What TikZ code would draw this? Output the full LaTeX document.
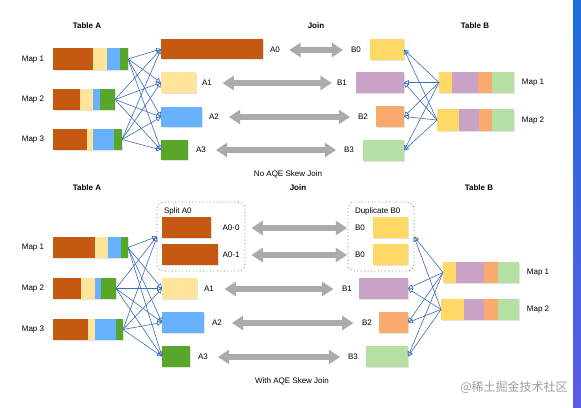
\documentclass[tikz,border=0pt]{standalone}
\usepackage{fontspec}
\setmainfont{Liberation Sans}
\newfontfamily\cjk{Noto Sans CJK SC}
\usetikzlibrary{arrows.meta,fit,shadows}
\definecolor{cBrown}{HTML}{C65911}
\definecolor{cCream}{HTML}{FFE599}
\definecolor{cBlue}{HTML}{66B2FF}
\definecolor{cGreen}{HTML}{58A62A}
\definecolor{cYel}{HTML}{FFD966}
\definecolor{cPur}{HTML}{C9A3C6}
\definecolor{cOra}{HTML}{F9AA6C}
\definecolor{cLgr}{HTML}{B5DFA3}
\definecolor{cFan}{HTML}{3A6DBA}
\definecolor{cJoin}{HTML}{ABABAB}
\definecolor{cStripTop}{HTML}{1C6ED8}
\definecolor{cStripBot}{HTML}{5B5CE4}
\begin{document}
\begin{tikzpicture}[x=0.75pt,y=-0.75pt,
  font=\fontsize{6}{7}\selectfont,
  box/.style={inner sep=0pt, outer sep=0pt, draw=none,
    drop shadow={shadow xshift=0.6pt, shadow yshift=-0.6pt, opacity=0.22}},
  lbl/.style={inner sep=0pt, outer sep=0pt},
  ttl/.style={font=\fontsize{6}{7}\selectfont\bfseries},
  fan/.style={draw=cFan, line width=0.45pt, -{Triangle[open, length=3.6pt, width=3.6pt]}},
  gjoin/.style={draw=cJoin, line width=4.5pt, {Triangle[length=8.5pt, width=10.5pt]}-{Triangle[length=8.5pt, width=10.5pt]}},
  dotbox/.style={draw=black!60, dotted, line width=0.6pt, rounded corners=5pt, inner sep=0pt, outer sep=0pt}]
\useasboundingbox (0,0) rectangle (581,407);
\shade[top color=cStripTop, bottom color=cStripBot] (573,0) rectangle (581,407);

% ================= TOP =================
\node[ttl] (tA1) at (87,26) {Table A};
\node[ttl] (tJ1) at (316,26) {Join};
\node[ttl] (tB1) at (475,26) {Table B};

\node[lbl] (lm1) at (33,60) {Map 1};
\node[lbl] (lm2) at (33,100) {Map 2};
\node[lbl] (lm3) at (33,140) {Map 3};

\node[box, fill=white, fit={(53,48)(128,70)}] (ta1) {};
\foreach \a/\b/\c in {53/93/cBrown,93/107/cCream,107/120/cBlue,120/128/cGreen} \fill[\c] (\a,48) rectangle (\b,70);
\node[box, fill=white, fit={(53,89)(115,110)}] (ta2) {};
\foreach \a/\b/\c in {53/80/cBrown,80/93/cCream,93/100/cBlue,100/115/cGreen} \fill[\c] (\a,89) rectangle (\b,110);
\node[box, fill=white, fit={(53,129)(122,150)}] (ta3) {};
\foreach \a/\b/\c in {53/87/cBrown,87/93/cCream,93/114/cBlue,114/122/cGreen} \fill[\c] (\a,129) rectangle (\b,150);

\node[box, fill=cBrown, fit={(161,39)(263,59)}] (a0) {};
\node[box, fill=cCream, fit={(161,72)(196,93)}] (a1) {};
\node[box, fill=cBlue, fit={(161,107)(202,127)}] (a2) {};
\node[box, fill=cGreen, fit={(161,140)(188,160)}] (a3) {};

\node[lbl] (la0) at (275,50) {A0};
\node[lbl] (la1) at (207,83) {A1};
\node[lbl] (la2) at (214,117) {A2};
\node[lbl] (la3) at (201,150) {A3};

\node[lbl] (lb0) at (356,50) {B0};
\node[lbl] (lb1) at (342,83) {B1};
\node[lbl] (lb2) at (363,117) {B2};
\node[lbl] (lb3) at (349,150) {B3};

\node[box, fill=cYel, fit={(370,39)(404,60)}] (b0) {};
\node[box, fill=cPur, fit={(356,72)(404,93)}] (b1) {};
\node[box, fill=cOra, fit={(376,106)(404,127)}] (b2) {};
\node[box, fill=cLgr, fit={(363,140)(404,161)}] (b3) {};

\node[box, fill=white, fit={(439,72)(514,93)}] (tb1) {};
\foreach \a/\b/\c in {439/452/cYel,452/478/cPur,478/492/cOra,492/514/cLgr} \fill[\c] (\a,72) rectangle (\b,93);
\node[box, fill=white, fit={(437,109)(514,131)}] (tb2) {};
\foreach \a/\b/\c in {437/459/cYel,459/479/cPur,479/492/cOra,492/514/cLgr} \fill[\c] (\a,109) rectangle (\b,131);

\node[lbl] (lmb1) at (533,83) {Map 1};
\node[lbl] (lmb2) at (533,121) {Map 2};

\draw[gjoin, shorten <=7pt, shorten >=6pt] (la0) -- (lb0);
\draw[gjoin, shorten <=8pt, shorten >=4pt] (la1) -- (lb1);
\draw[gjoin, shorten <=7.5pt, shorten >=6pt] (la2) -- (lb2);
\draw[gjoin, shorten <=7.5pt, shorten >=6pt] (la3) -- (lb3);

\foreach \s in {ta1,ta2,ta3} \foreach \t in {a0,a1,a2,a3} \draw[fan] (\s.east) -- (\t.west);
\foreach \s in {tb1,tb2} \foreach \t in {b0,b1,b2,b3} \draw[fan] (\s.west) -- (\t.east);

\node[lbl] (cap1) at (288,174) {No AQE Skew Join};

% ================= BOTTOM =================
\node[ttl] (tA2) at (87,188) {Table A};
\node[ttl] (tJ2) at (298,188) {Join};
\node[ttl] (tB2) at (479,188) {Table B};

\node[lbl] (ln1) at (33,248) {Map 1};
\node[lbl] (ln2) at (33,289) {Map 2};
\node[lbl] (ln3) at (33,330) {Map 3};

\node[box, fill=white, fit={(53,237)(128,258)}] (sa1) {};
\foreach \a/\b/\c in {53/95/cBrown,95/108/cCream,108/121/cBlue,121/128/cGreen} \fill[\c] (\a,237) rectangle (\b,258);
\node[box, fill=white, fit={(53,278)(116,299)}] (sa2) {};
\foreach \a/\b/\c in {53/81/cBrown,81/95/cCream,95/101/cBlue,101/116/cGreen} \fill[\c] (\a,278) rectangle (\b,299);
\node[box, fill=white, fit={(53,319)(123,340)}] (sa3) {};
\foreach \a/\b/\c in {53/88/cBrown,88/95/cCream,95/116/cBlue,116/123/cGreen} \fill[\c] (\a,319) rectangle (\b,340);

\node[dotbox, fit={(157,202)(245,271)}] (split) {};
\node[lbl, anchor=west] (lsplit) at (164,211) {Split A0};
\node[box, fill=cBrown, fit={(162,217)(211,238)}] (a00) {};
\node[box, fill=cBrown, fit={(162,244)(218,265)}] (a01) {};
\node[box, fill=cCream, fit={(162,278)(197,299)}] (c1) {};
\node[box, fill=cBlue, fit={(162,312)(204,333)}] (c2) {};
\node[box, fill=cGreen, fit={(162,346)(190,367)}] (c3) {};

\node[lbl] (la00) at (231,228) {A0-0};
\node[lbl] (la01) at (231,255) {A0-1};
\node[lbl] (lc1) at (209,289) {A1};
\node[lbl] (lc2) at (217,323) {A2};
\node[lbl] (lc3) at (203,357) {A3};

\node[dotbox, fit={(348,202)(414,271)}] (dup) {};
\node[lbl, anchor=west] (ldup) at (355,211) {Duplicate B0};
\node[box, fill=cYel, fit={(373,217)(408,238)}] (d00) {};
\node[box, fill=cYel, fit={(373,244)(408,265)}] (d01) {};
\node[box, fill=cPur, fit={(359,278)(408,299)}] (d1) {};
\node[box, fill=cOra, fit={(379,312)(408,333)}] (d2) {};
\node[box, fill=cLgr, fit={(366,346)(408,367)}] (d3) {};

\node[lbl] (ld00) at (360,228) {B0};
\node[lbl] (ld01) at (360,255) {B0};
\node[lbl] (ld1) at (347,289) {B1};
\node[lbl] (ld2) at (367,323) {B2};
\node[lbl] (ld3) at (353,357) {B3};

\node[box, fill=white, fit={(443,262)(519,283)}] (sb1) {};
\foreach \a/\b/\c in {443/456/cYel,456/484/cPur,484/498/cOra,498/519/cLgr} \fill[\c] (\a,262) rectangle (\b,283);
\node[box, fill=white, fit={(441,299)(519,320)}] (sb2) {};
\foreach \a/\b/\c in {441/464/cYel,464/484/cPur,484/498/cOra,498/519/cLgr} \fill[\c] (\a,299) rectangle (\b,320);

\node[lbl] (lnb1) at (538,273) {Map 1};
\node[lbl] (lnb2) at (538,310) {Map 2};

\draw[gjoin, shorten <=9pt, shorten >=6pt] (la00) -- (ld00);
\draw[gjoin, shorten <=9pt, shorten >=6pt] (la01) -- (ld01);
\draw[gjoin, shorten <=8pt, shorten >=6.5pt] (lc1) -- (ld1);
\draw[gjoin, shorten <=7.5pt, shorten >=6.5pt] (lc2) -- (ld2);
\draw[gjoin, shorten <=7.5pt, shorten >=6pt] (lc3) -- (ld3);

\foreach \s in {sa1,sa2,sa3} \foreach \t in {split,c1,c2,c3} \draw[fan] (\s.east) -- (\t.west);
\foreach \s in {sb1,sb2} \foreach \t in {dup,d1,d2,d3} \draw[fan] (\s.west) -- (\t.east);

\node[lbl] (cap2) at (292,381) {With AQE Skew Join};

\node[lbl, text=black!38, font=\cjk\fontsize{9}{10}\selectfont] (wm) at (514,387) {@稀土掘金技术社区};
\end{tikzpicture}
\end{document}
